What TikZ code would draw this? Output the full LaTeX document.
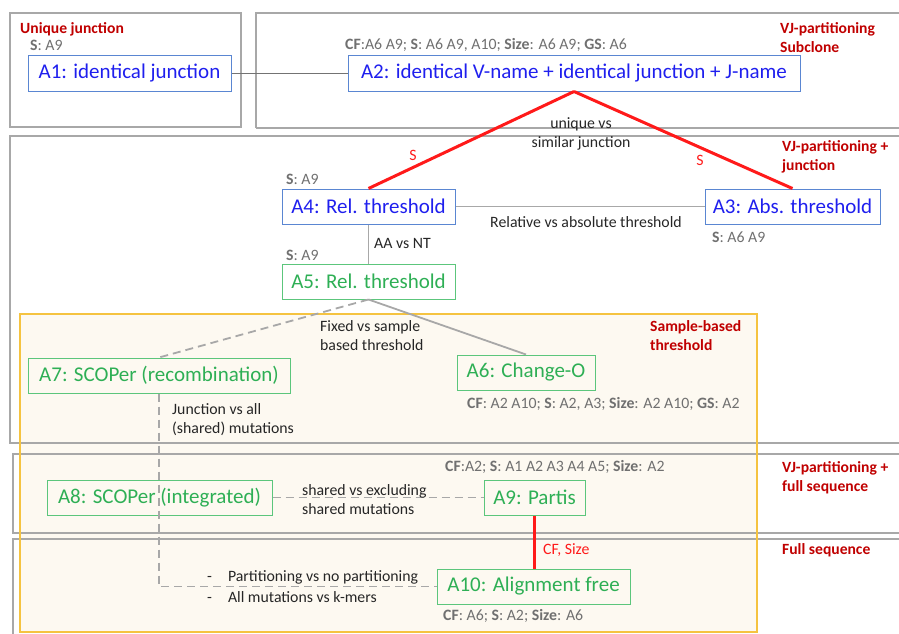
\documentclass[tikz,border=0pt]{standalone}
\usepackage{fontspec}
\setmainfont{Carlito}
\definecolor{btext}{HTML}{1F1FEE}
\definecolor{bborder}{HTML}{5A86D2}
\definecolor{gtext}{HTML}{2EAF55}
\definecolor{gborder}{HTML}{5CC67C}
\definecolor{anngray}{HTML}{707070}
\definecolor{hdrred}{HTML}{C00000}
\definecolor{panelgray}{HTML}{A8A8A8}
\definecolor{linegray}{HTML}{A8A8A8}
\definecolor{redline}{HTML}{FF1A1A}
\definecolor{beige}{HTML}{FDF9F1}
\definecolor{ybord}{HTML}{F5C340}
\begin{document}
\begin{tikzpicture}[x=1pt,y=-1pt,
  box/.style={draw, line width=1pt, inner sep=0pt, font=\fontsize{21}{24}\selectfont},
  bluebox/.style={box, draw=bborder, text=btext},
  greenbox/.style={box, draw=gborder, text=gtext},
  ann/.style={font=\fontsize{15.8}{18}\selectfont, text=anngray, inner sep=0pt, anchor=west},
  lab/.style={font=\fontsize{15.8}{19}\selectfont, text=black!85, inner sep=0pt, align=left, anchor=west},
  redlab/.style={font=\fontsize{15.8}{18}\selectfont, text=redline, inner sep=0pt},
  hdr/.style={font=\bfseries\fontsize{15.6}{19}\selectfont, text=hdrred, inner sep=0pt, anchor=west, align=left},
  panel/.style={draw=panelgray, line width=1.2pt},
  gline/.style={draw=linegray, line width=1.8pt},
  dline/.style={draw=linegray, line width=1.8pt, dash pattern=on 8pt off 5pt},
  rline/.style={draw=redline, line width=3pt}
]
\useasboundingbox (0,0) rectangle (899,634);
% yellow fill
\fill[beige] (20,314) rectangle (757,632);
% panels
\draw[panel] (10,13) rectangle (241,127);
\draw[panel] (256,128) -- (256,13) -- (905,13);
\draw[panel] (256,128) -- (905,128);
\draw[panel] (905,136) -- (10,136) -- (10,443) -- (905,443);
\draw[panel] (905,454) -- (13,454) -- (13,533) -- (905,533);
\draw[panel] (905,539) -- (13,539) -- (13,640);
% yellow border
\draw[ybord, line width=1.5pt] (20,314) rectangle (757,632);

% headers
\node[hdr] (h1) at (20,29) {Unique junction};
\node[hdr, anchor=north west] (h2) at (780,22) {VJ-partitioning\\Subclone};
\node[hdr, anchor=north west] (h3) at (782,140) {VJ-partitioning +\\junction};
\node[hdr, anchor=north west] (h4) at (650,320) {Sample-based\\threshold};
\node[hdr, anchor=north west] (h5) at (782,461) {VJ-partitioning +\\full sequence};
\node[hdr] (h6) at (782,550) {Full sequence};

% nodes
\node[bluebox, minimum width=203pt, minimum height=35pt] (A1) at (129.5,73.5) {A1: identical junction};
\node[bluebox, minimum width=452pt, minimum height=35pt] (A2) at (574,73.5) {A2: identical V-name + identical junction + J-name};
\node[bluebox, minimum width=173pt, minimum height=35pt] (A4) at (368.5,206.5) {A4: Rel. threshold};
\node[bluebox, minimum width=175pt, minimum height=35pt] (A3) at (792.5,206.5) {A3: Abs. threshold};
\node[greenbox, minimum width=173pt, minimum height=35pt] (A5) at (368.5,281.5) {A5: Rel. threshold};
\node[greenbox, minimum width=262pt, minimum height=35pt] (A7) at (159,375.5) {A7: SCOPer (recombination)};
\node[greenbox, minimum width=138pt, minimum height=35pt] (A6) at (526,372.5) {A6: Change-O};
\node[greenbox, minimum width=225pt, minimum height=35pt] (A8) at (159.5,497.5) {A8: SCOPer (integrated)};
\node[greenbox, minimum width=101pt, minimum height=35pt] (A9) at (534.5,497.5) {A9: Partis};
\node[greenbox, minimum width=193pt, minimum height=35pt] (A10) at (533.5,586.5) {A10: Alignment free};

% annotations
\node[ann] (s1) at (30,45) {\textbf{S}: A9};
\node[ann] (s2) at (345,45) {\textbf{CF}:A6 A9; \textbf{S}: A6 A9, A10; \textbf{Size}: A6 A9; \textbf{GS}: A6};
\node[ann] (s4) at (286,179) {\textbf{S}: A9};
\node[ann] (s3) at (712,237) {\textbf{S}: A6 A9};
\node[ann] (s5) at (286,255) {\textbf{S}: A9};
\node[ann] (s6) at (467,404) {\textbf{CF}: A2 A10; \textbf{S}: A2, A3; \textbf{Size}: A2 A10; \textbf{GS}: A2};
\node[ann] (s9) at (445,467) {\textbf{CF}:A2; \textbf{S}: A1 A2 A3 A4 A5; \textbf{Size}: A2};
\node[ann] (s10) at (443,616) {\textbf{CF}: A6; \textbf{S}: A2; \textbf{Size}: A6};

% connectors
\draw[draw=black!55, line width=1.3pt] (A1.east) -- (A2.west);
\draw[rline] (A2.south) -- (A4.north);
\draw[rline] (A2.south) -- (A3.north);
\draw[gline] (A4.east) -- (A3.west);
\draw[gline] (A4.south) -- (A5.north);
\draw[dline] (A5.south) -- (A7.north);
\draw[gline] (A5.south) -- (A6.north);
\draw[dline] (A7.south) -- (A7.south |- A10.west) -- (A10.west);
\draw[dline] (A8.east) -- (A9.west);
\draw[draw=redline, line width=2.5pt] (A9.south) -- (A9.south |- A10.north);

% connector labels
\node[lab, align=center, anchor=center] (l1) at (581,133.5) {unique vs\\similar junction};
\node[redlab] (r1) at (413,155) {S};
\node[redlab] (r2) at (700,160) {S};
\node[lab] (l2) at (490,222) {Relative vs absolute threshold};
\node[lab] (l3) at (374,243) {AA vs NT};
\node[lab] (l4) at (320,336) {Fixed vs sample\\based threshold};
\node[lab] (l5) at (172,420) {Junction vs all\\(shared) mutations};
\node[lab] (l6) at (302,500) {shared vs excluding\\shared mutations};
\node[redlab, anchor=west] (r3) at (543,550) {CF, Size};
\node[lab] (l7) at (207,577) {-\hspace{16pt}Partitioning vs no partitioning};
\node[lab] (l8) at (207,597) {-\hspace{16pt}All mutations vs k-mers};
\end{tikzpicture}
\end{document}
